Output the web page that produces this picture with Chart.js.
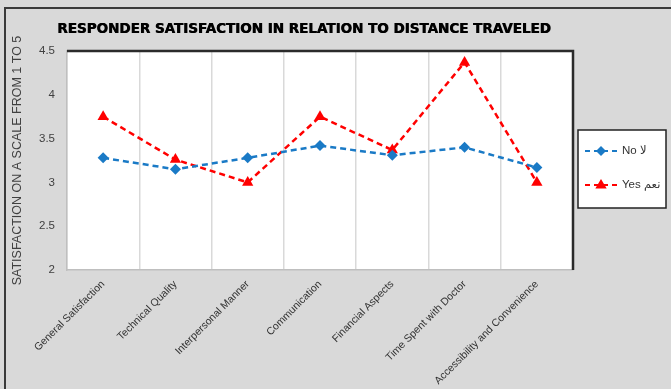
<!DOCTYPE html>
<html>
<head>
<meta charset="utf-8">
<script src="https://cdn.jsdelivr.net/npm/chart.js@4/dist/chart.umd.min.js"></script>
<style>
  html, body { margin: 0; padding: 0; background: #d9d9d9; }
  #wrap { position: relative; width: 671px; height: 389px; }
</style>
</head>
<body>
<div id="wrap"><canvas id="chart" width="671" height="389"></canvas></div>
<script>
const CHART_TITLE = "RESPONDER SATISFACTION IN RELATION TO DISTANCE TRAVELED";
const Y_TITLE = "SATISFACTION ON A SCALE FROM 1 TO 5";

const categories = [
  "General Satisfaction",
  "Technical Quality",
  "Interpersonal Manner",
  "Communication",
  "Financial Aspects",
  "Time Spent with Doctor",
  "Accessibility and Convenience",
];
const noValues = [3.28, 3.15, 3.28, 3.42, 3.31, 3.40, 3.17];
const yesValues = [3.75, 3.26, 3.0, 3.75, 3.37, 4.37, 3.0];
const seriesLabels = ["No \u0644\u0627", "Yes \u0646\u0639\u0645"];
const yMin = 2;
const yMax = 4.5;
const yStep = 0.5;

const NO_COLOR = "#1a7ac6";
const YES_COLOR = "#ff0000";
const FONT = "'Liberation Sans', 'DejaVu Sans', sans-serif";

function markerPath(ctx, style, x, y, r) {
  ctx.beginPath();
  if (style === "triangle") {
    ctx.moveTo(x, y - r);
    ctx.lineTo(x + r * 0.95, y + r * 0.6);
    ctx.lineTo(x - r * 0.95, y + r * 0.6);
  } else {
    ctx.moveTo(x, y - r);
    ctx.lineTo(x + r, y);
    ctx.lineTo(x, y + r);
    ctx.lineTo(x - r, y);
  }
  ctx.closePath();
}

// background, outer frame, white plot area and title
const framePlugin = {
  id: "frame",
  beforeDraw(chart) {
    const { ctx, chartArea: a, width, height } = chart;
    ctx.save();
    ctx.fillStyle = "#d9d9d9";
    ctx.fillRect(0, 0, width, height);
    ctx.strokeStyle = "#3a3a3a";
    ctx.lineWidth = 2;
    ctx.beginPath();
    ctx.moveTo(5, height);
    ctx.lineTo(5, 8);
    ctx.lineTo(width, 8);
    ctx.stroke();
    ctx.fillStyle = "#ffffff";
    ctx.fillRect(a.left, a.top, a.right - a.left, a.bottom - a.top);
    ctx.font = "bold 13.5px 'DejaVu Sans', sans-serif";
    ctx.textAlign = "center";
    ctx.textBaseline = "middle";
    ctx.fillStyle = "#9a9a9a";
    ctx.fillText(CHART_TITLE, 304.8, 29.8);
    ctx.fillStyle = "#000000";
    ctx.fillText(CHART_TITLE, 304, 29);
    ctx.fillText(CHART_TITLE, 304.4, 29);
    ctx.restore();
  },
  afterDraw(chart) {
    const { ctx, chartArea: a } = chart;
    ctx.save();
    ctx.strokeStyle = "#2b2b2b";
    ctx.lineWidth = 2.5;
    ctx.beginPath();
    ctx.moveTo(a.left, a.top);
    ctx.lineTo(a.right, a.top);
    ctx.lineTo(a.right, a.bottom);
    ctx.stroke();
    ctx.restore();
  },
};

// boxed legend at the right, dashed line with marker
const boxLegendPlugin = {
  id: "boxLegend",
  afterDraw(chart) {
    const { ctx } = chart;
    const box = { x: 578, y: 130, w: 88, h: 78 };
    ctx.save();
    ctx.fillStyle = "#ffffff";
    ctx.fillRect(box.x, box.y, box.w, box.h);
    ctx.strokeStyle = "#222222";
    ctx.lineWidth = 1.5;
    ctx.strokeRect(box.x, box.y, box.w, box.h);
    chart.data.datasets.forEach((ds, i) => {
      const y = box.y + 21 + i * 34;
      ctx.strokeStyle = ds.borderColor;
      ctx.lineWidth = 2.2;
      ctx.setLineDash([5, 4]);
      ctx.beginPath();
      ctx.moveTo(585, y);
      ctx.lineTo(617, y);
      ctx.stroke();
      ctx.setLineDash([]);
      ctx.fillStyle = ds.borderColor;
      markerPath(ctx, ds.pointStyle, 601, y, ds.pointStyle === "triangle" ? 6 : 5);
      ctx.fill();
      ctx.fillStyle = "#333333";
      ctx.font = "11.5px " + FONT;
      ctx.textAlign = "left";
      ctx.textBaseline = "middle";
      ctx.fillText(ds.label, 622, y);
    });
    ctx.restore();
  },
};

new Chart(document.getElementById("chart"), {
  type: "line",
  data: {
    labels: categories,
    datasets: [
      {
        label: seriesLabels[0],
        data: noValues,
        borderColor: NO_COLOR,
        backgroundColor: NO_COLOR,
        borderWidth: 2.5,
        borderDash: [6, 4],
        pointStyle: "rectRot",
        pointRadius: 5.5,
        pointBorderWidth: 0,
        tension: 0,
      },
      {
        label: seriesLabels[1],
        data: yesValues,
        borderColor: YES_COLOR,
        backgroundColor: YES_COLOR,
        borderWidth: 2.5,
        borderDash: [6, 4],
        pointStyle: "triangle",
        pointRadius: 6.5,
        pointBorderWidth: 0,
        tension: 0,
      },
    ],
  },
  options: {
    responsive: false,
    animation: false,
    layout: { padding: { top: 51, right: 98, left: 0, bottom: 0 } },
    plugins: {
      legend: { display: false },
      title: { display: false },
      tooltip: { enabled: false },
    },
    scales: {
      x: {
        offset: true,
        afterFit(scale) { scale.height = 119; },
        grid: { offset: true, color: "#d9d9d9", lineWidth: 1.5, drawTicks: false },
        border: { color: "#bfbfbf", width: 1.5 },
        ticks: {
          autoSkip: false,
          minRotation: 45,
          maxRotation: 45,
          padding: 8,
          color: "#333333",
          font: { family: FONT, size: 10.5 },
        },
      },
      y: {
        min: yMin,
        max: yMax,
        afterFit(scale) { scale.width = 67; },
        grid: { display: false, drawTicks: false },
        border: { color: "#bfbfbf", width: 1.5 },
        ticks: {
          stepSize: yStep,
          padding: 12,
          color: "#404040",
          font: { family: FONT, size: 11.5 },
          callback: (v) => String(Number(v)),
        },
        title: {
          display: true,
          text: Y_TITLE,
          color: "#404040",
          padding: { top: 10, bottom: 0 },
          font: { family: FONT, size: 12.5 },
        },
      },
    },
  },
  plugins: [framePlugin, boxLegendPlugin],
});
</script>
</body>
</html>
